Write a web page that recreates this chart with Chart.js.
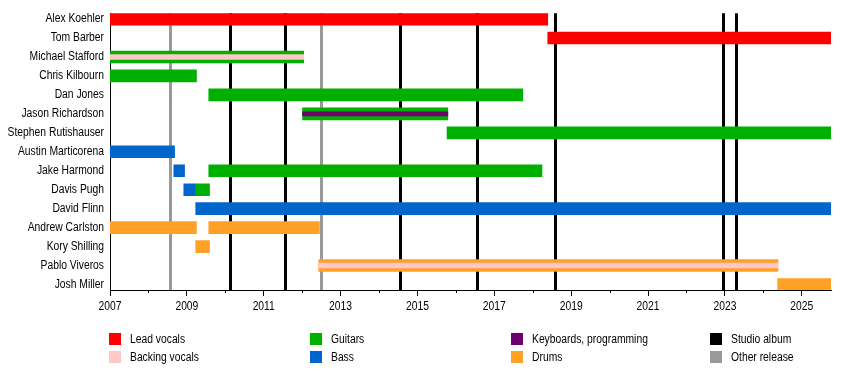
<!DOCTYPE html>
<html>
<head>
<meta charset="utf-8">
<script src="https://cdn.jsdelivr.net/npm/chart.js@4.4.1/dist/chart.umd.min.js"></script>
<style>
  html, body { margin: 0; padding: 0; background: #fff; }
  #wrap { position: relative; width: 850px; height: 380px; }
  #legend { position: absolute; left: 0; top: 0; width: 850px; height: 380px; pointer-events: none;
    font-family: "Liberation Sans", Arial, sans-serif; font-size: 12px; color: #000; }
  .li { position: absolute; height: 14px; line-height: 14px; white-space: nowrap; }
  .sw { position: absolute; left: 0; top: 1px; width: 12px; height: 12px; }
  .tx { position: absolute; left: 21px; top: 0; transform: scaleX(0.86); transform-origin: 0 50%; }
</style>
</head>
<body>
<div id="wrap">
  <canvas id="c" width="850" height="380"></canvas>
  <div id="legend"></div>
</div>
<script>
// ---- data ----
const members = ["Alex Koehler","Tom Barber","Michael Stafford","Chris Kilbourn","Dan Jones","Jason Richardson","Stephen Rutishauser","Austin Marticorena","Jake Harmond","Davis Pugh","David Flinn","Andrew Carlston","Kory Shilling","Pablo Viveros","Josh Miller"];
const timelineStart = 2007;
const timelineEnd = 2025.76;
// [member index, start, end]
const leadVocals = [[0, 2007, 2018.39], [1, 2018.39, 2025.76]];
const guitars = [[2, 2007, 2012.04], [3, 2007, 2009.25], [4, 2009.57, 2017.74], [5, 2012.01, 2015.79], [6, 2015.77, 2025.76], [8, 2009.57, 2018.24], [9, 2009.23, 2009.59]];
const bass = [[7, 2007, 2008.68], [8, 2008.66, 2008.94], [9, 2008.92, 2009.23], [10, 2009.23, 2025.76]];
const drums = [[11, 2007, 2009.25], [11, 2009.57, 2012.45], [12, 2009.23, 2009.59], [13, 2012.43, 2024.38], [14, 2024.37, 2025.76]];
const backingVocals = [[2, 2007, 2012.04], [13, 2012.43, 2024.38]];
const keyboards = [[5, 2012.01, 2015.79]];
const studioAlbums = [2010.12, 2011.55, 2014.55, 2016.56, 2018.58, 2022.96, 2023.29];
const otherReleases = [2008.55, 2012.49];
const majorTickYears = [2007, 2009, 2011, 2013, 2015, 2017, 2019, 2021, 2023, 2025];
const minorTickYears = [2008, 2010, 2012, 2014, 2016, 2018, 2020, 2022, 2024];

const legendItems = [
  ["Lead vocals", "#ff0000"], ["Backing vocals", "#ffc8c8"],
  ["Guitars", "#00b000"], ["Bass", "#0066cc"],
  ["Keyboards, programming", "#6f0070"], ["Drums", "#ffa127"],
  ["Studio album", "#000000"], ["Other release", "#999999"]
];

const FONT = '"Liberation Sans", Arial, sans-serif';
const NARROW = 0.86; // horizontal condensing of label text
const toPts = arr => arr.map(([i, s, e]) => ({ x: [s, e], y: i }));

function ds(label, arr, color, thick) {
  return { label, data: toPts(arr), backgroundColor: color, borderWidth: 0, barThickness: thick, grouped: false, borderSkipped: false };
}

const eventLines = {
  id: 'eventLines',
  beforeDatasetsDraw(chart) {
    const { ctx, chartArea, scales } = chart;
    ctx.save();
    ctx.lineWidth = 3;
    const draw = (years, color) => {
      ctx.strokeStyle = color;
      years.forEach(y => {
        const px = Math.round(scales.x.getPixelForValue(y)) + 0.5;
        ctx.beginPath(); ctx.moveTo(px, chartArea.top); ctx.lineTo(px, chartArea.bottom); ctx.stroke();
      });
    };
    draw(otherReleases, '#999999');
    draw(studioAlbums, '#000000');
    ctx.restore();
  },
  afterDraw(chart) {
    const { ctx, chartArea, scales } = chart;
    ctx.save();
    ctx.strokeStyle = '#000'; ctx.lineWidth = 1;
    minorTickYears.forEach(y => {
      const px = Math.round(scales.x.getPixelForValue(y)) + 0.5;
      ctx.beginPath(); ctx.moveTo(px, chartArea.bottom); ctx.lineTo(px, chartArea.bottom + 3); ctx.stroke();
    });
    ctx.restore();
  }
};

// Condense tick label text horizontally (narrow-font look) while keeping library positions
const condense = {
  id: 'condense',
  afterLayout(chart) {
    Object.values(chart.scales).forEach(s => {
      if (s._condensed) return;
      s._condensed = true;
      const origDraw = s.drawLabels;
      const origItems = s.getLabelItems;
      s._computeLabelArea = () => undefined;
      s.getLabelItems = function (area) {
        return origItems.call(this, area).map(it => {
          const t = it.options.translation;
          return Object.assign({}, it, { options: Object.assign({}, it.options, { translation: [t[0] / NARROW, t[1]] }) });
        });
      };
      s.drawLabels = function (area) {
        const ctx = this.ctx;
        ctx.save();
        ctx.scale(NARROW, 1);
        origDraw.call(this, area);
        ctx.restore();
      };
    });
  }
};

new Chart(document.getElementById('c'), {
  type: 'bar',
  data: {
    // stripes first: Chart.js draws the first dataset on top
    datasets: [
      ds('Keyboards, programming', keyboards, '#6f0070', 4),
      ds('Backing vocals', backingVocals, '#ffc8c8', 5),
      ds('Lead vocals', leadVocals, '#ff0000', 12),
      ds('Guitars', guitars, '#00b000', 12),
      ds('Bass', bass, '#0066cc', 12),
      ds('Drums', drums, '#ffa127', 12)
    ]
  },
  options: {
    indexAxis: 'y',
    responsive: false,
    animation: false,
    layout: { padding: { top: 10, right: 19, bottom: 0, left: 0 } },
    plugins: { legend: { display: false }, tooltip: { enabled: false } },
    scales: {
      x: {
        type: 'linear', min: timelineStart, max: timelineEnd, offset: false,
        afterFit(s) { s.height = 90; },
        afterBuildTicks(s) { s.ticks = majorTickYears.map(v => ({ value: v })); },
        grid: { display: true, offset: false, drawOnChartArea: false, drawTicks: true, tickLength: 6, color: '#000', lineWidth: 1 },
        border: { display: true, color: '#000', width: 1 },
        ticks: { font: { family: FONT, size: 12 }, color: '#000', padding: 3, maxRotation: 0, autoSkip: false, callback: v => String(v) }
      },
      y: {
        type: 'linear', reverse: true, min: -0.31, max: 14.29, offset: false,
        afterFit(s) { s.width = 110; },
        afterBuildTicks(s) { s.ticks = members.map((_, i) => ({ value: i })); },
        grid: { display: false, offset: false, drawTicks: false },
        border: { display: true, color: '#000', width: 1 },
        ticks: { font: { family: FONT, size: 12 }, color: '#000', padding: 6, autoSkip: false, callback: v => members[v] }
      }
    }
  },
  plugins: [eventLines, condense]
});

// HTML legend (4 columns x 2 rows, column-major)
const colX = [109, 310, 511, 710];
const rowY = [332, 350];
const leg = document.getElementById('legend');
legendItems.forEach(([name, color], k) => {
  const d = document.createElement('div');
  d.className = 'li';
  d.style.left = colX[Math.floor(k / 2)] + 'px';
  d.style.top = rowY[k % 2] + 'px';
  d.innerHTML = '<span class="sw" style="background:' + color + '"></span><span class="tx"></span>';
  d.querySelector('.tx').textContent = name;
  leg.appendChild(d);
});
</script>
</body>
</html>
